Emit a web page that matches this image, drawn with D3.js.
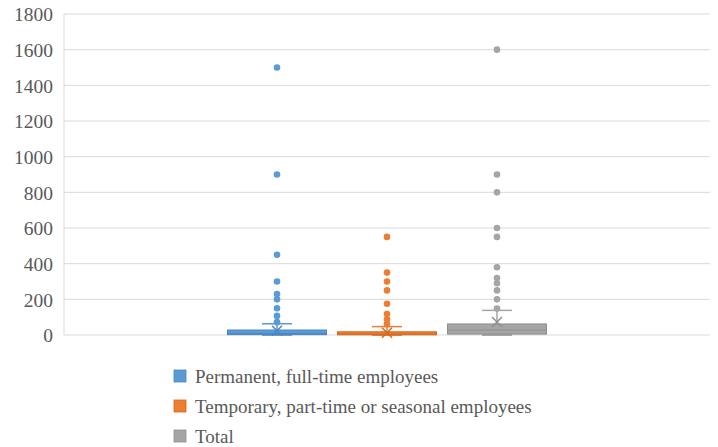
<!DOCTYPE html>
<html>
<head>
<meta charset="utf-8">
<script src="https://cdn.jsdelivr.net/npm/d3@7"></script>
<style>
  body { margin: 0; background: #fff; font-family: 'Liberation Serif', serif; }
  svg text { font-family: 'Liberation Serif', serif !important; fill: #595959; }
  svg .tick text { font-size: 19.5px !important; }
  svg .legend text { font-size: 19px !important; }
</style>
</head>
<body>
<script>
const width = 718;
const height = 447;
const margin = {top: 14, right: 8, bottom: 112, left: 64};

// series and box statistics
const seriesNames = ["Permanent, full-time employees", "Temporary, part-time or seasonal employees", "Total"];
const seriesColors = ["#5B9BD5", "#ED7D31", "#A5A5A5"];
const seriesStroke = ["#4a87c0", "#d46a22", "#8f8f8f"];
const whiskerLow = [0, 0, 0];
const q1 = [2, 1, 5];
const median = [8, 5, 28];
const q3 = [28, 18, 62];
const whiskerHigh = [63, 47, 138];
const means = [24, 13, 73];
const outliers = [
    [1500, 900, 450, 300, 230, 200, 150, 107, 72],
    [550, 350, 300, 250, 175, 118, 88, 62],
    [1600, 900, 800, 600, 550, 380, 320, 290, 250, 200, 148]
];
const yTicks = [0, 200, 400, 600, 800, 1000, 1200, 1400, 1600, 1800];

const svg = d3.select("body")
    .append("svg")
    .attr("width", width)
    .attr("height", height)
    .style("display", "block");

const plotW = width - margin.left - margin.right;
const plotH = height - margin.top - margin.bottom;

const g = svg.append("g")
    .attr("transform", "translate(" + margin.left + "," + margin.top + ")");

const yScale = d3.scaleLinear().domain([0, 1800]).range([plotH, 0]);

// one category, three series side by side
const xCat = d3.scaleBand().domain([""]).range([0, plotW]);
const groupW = 330;
const cx = xCat("") + xCat.bandwidth() / 2;
const xScale = d3.scaleBand()
    .domain(seriesNames)
    .range([cx - groupW / 2, cx + groupW / 2])
    .paddingInner(0.1)
    .paddingOuter(0.05);

// gridlines
g.selectAll("line.grid")
    .data(yTicks)
    .enter()
    .append("line")
    .attr("class", "grid")
    .attr("x1", 0)
    .attr("x2", plotW)
    .attr("y1", d => yScale(d))
    .attr("y2", d => yScale(d))
    .attr("stroke", "#d9d9d9")
    .attr("stroke-width", 1);

// left axis line
g.append("line")
    .attr("x1", 0).attr("x2", 0)
    .attr("y1", 0).attr("y2", plotH)
    .attr("stroke", "#d9d9d9");

const yAxis = g.append("g")
    .call(d3.axisLeft(yScale).tickValues(yTicks).tickSize(0).tickPadding(11).tickFormat(d3.format("d")));
yAxis.select(".domain").remove();
yAxis.attr("font-family", null).attr("font-size", null);
yAxis.selectAll("text")
    .attr("dy", "0.35em")
    .attr("fill", "#595959");

// boxes
seriesNames.forEach((name, i) => {
    const x = xScale(name);
    const bw = xScale.bandwidth();
    const mid = x + bw / 2;
    const capW = 30;
    const box = g.append("g");

    // upper whisker
    box.append("line")
        .attr("x1", mid).attr("x2", mid)
        .attr("y1", yScale(q3[i])).attr("y2", yScale(whiskerHigh[i]))
        .attr("stroke", seriesColors[i]).attr("stroke-width", 1.5);
    box.append("line")
        .attr("x1", mid - capW / 2).attr("x2", mid + capW / 2)
        .attr("y1", yScale(whiskerHigh[i])).attr("y2", yScale(whiskerHigh[i]))
        .attr("stroke", seriesColors[i]).attr("stroke-width", 1.5);
    // lower whisker cap
    box.append("line")
        .attr("x1", mid - capW / 2).attr("x2", mid + capW / 2)
        .attr("y1", yScale(whiskerLow[i])).attr("y2", yScale(whiskerLow[i]))
        .attr("stroke", seriesStroke[i]).attr("stroke-width", 1.5);

    // box
    box.append("rect")
        .attr("x", x)
        .attr("y", yScale(q3[i]))
        .attr("width", bw)
        .attr("height", yScale(q1[i]) - yScale(q3[i]))
        .attr("fill", seriesColors[i])
        .attr("stroke", seriesStroke[i])
        .attr("stroke-width", 1);
    box.append("line")
        .attr("x1", x).attr("x2", x + bw)
        .attr("y1", yScale(median[i])).attr("y2", yScale(median[i]))
        .attr("stroke", seriesStroke[i]).attr("stroke-width", 1);

    // mean marker (x)
    const my = yScale(means[i]);
    const s = 5;
    box.append("path")
        .attr("d", "M" + (mid - s) + "," + (my - s) + "L" + (mid + s) + "," + (my + s) +
                   "M" + (mid - s) + "," + (my + s) + "L" + (mid + s) + "," + (my - s))
        .attr("stroke", seriesStroke[i])
        .attr("stroke-width", 1.5)
        .attr("fill", "none");

    // outliers
    box.selectAll("circle")
        .data(outliers[i])
        .enter()
        .append("circle")
        .attr("cx", mid)
        .attr("cy", d => yScale(d))
        .attr("r", 3.3)
        .attr("fill", seriesColors[i]);
});

// legend
const legend = svg.append("g")
    .attr("class", "legend")
    .attr("transform", "translate(174,376)");
seriesNames.forEach((name, i) => {
    const row = legend.append("g").attr("transform", "translate(0," + (i * 30) + ")");
    row.append("rect")
        .attr("x", 0).attr("y", -6)
        .attr("width", 12).attr("height", 12)
        .attr("fill", seriesColors[i])
        .attr("stroke", seriesStroke[i])
        .attr("stroke-width", 0.8);
    row.append("text")
        .attr("x", 21)
        .attr("y", 0)
        .attr("dy", "0.35em")
        .text(name);
});
</script>
</body>
</html>
